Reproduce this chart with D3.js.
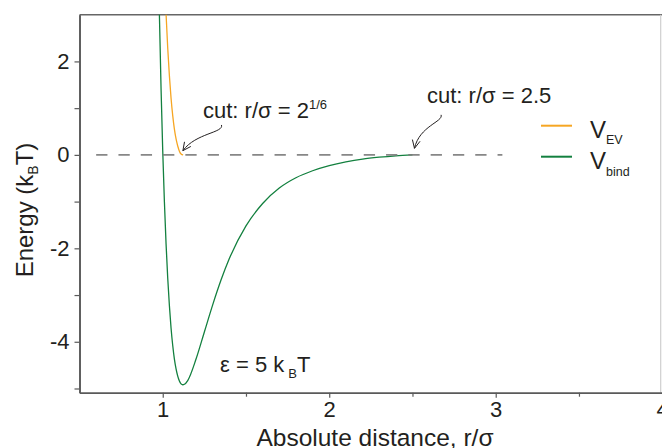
<!DOCTYPE html>
<html>
<head>
<meta charset="utf-8">
<style>
  html, body { margin: 0; padding: 0; background: #fff; }
  svg text { font-family: "Liberation Sans", Arial, sans-serif; fill: #231f20; }
</style>
</head>
<body>
<div id="chart"></div>
<script src="https://d3js.org/d3.v7.min.js"></script>
<script>
// V_bind (LJ, eps = 5 kBT, cut at 2.5 sigma)
const bindR = [0.975, 0.98, 0.99, 1.00, 1.01, 1.02, 1.03, 1.04, 1.05, 1.06, 1.07, 1.08, 1.10, 1.11, 1.12, 1.13, 1.15,
               1.20, 1.25, 1.30, 1.35, 1.40, 1.50, 1.60, 1.70, 1.80, 1.90, 2.00, 2.10, 2.20, 2.30, 2.40, 2.50];
const bindE = [3.90, 2.99, 1.40, 0.08, -1.01, -1.91, -2.64, -3.23, -3.71, -4.08, -4.37, -4.58, -4.84, -4.90, -4.92, -4.91, -4.83,
               -4.37, -3.79, -3.21, -2.68, -2.22, -1.52, -1.04, -0.71, -0.49, -0.34, -0.23, -0.15, -0.09, -0.05, -0.02, 0.00];

// V_EV (WCA, cut at 2^(1/6) sigma)
const evR = [1.015, 1.02, 1.03, 1.04, 1.05, 1.06, 1.07, 1.08, 1.09, 1.10, 1.11, 1.1225];
const evE = [3.44, 3.01, 2.28, 1.69, 1.21, 0.84, 0.55, 0.34, 0.19, 0.08, 0.02, 0.00];

// zero reference line extent
const zeroLine = [0.6, 3.04];

const xMajor = [1, 2, 3, 4];
const xMinor = [1.5, 2.5, 3.5];
const yMajor = [-4, -2, 0, 2];
const yMinor = [-5, -3, -1, 1];

// annotation arrows (data coords: start, ctrl1, ctrl2, tip)
const arrows = [
  [[1.353, 0.64], [1.367, 0.47], [1.199, 0.47], [1.121, 0.09]],
  [[2.672, 0.857], [2.686, 0.707], [2.542, 0.621], [2.512, 0.14]]
];

const width = 662, height = 448;
const svg = d3.select("#chart").append("svg")
  .attr("width", width)
  .attr("height", height);

const x = d3.scaleLinear().domain([0.5, 4]).range([79.5, 662.2]);
const y = d3.scaleLinear().domain([-5.09, 3]).range([392.7, 14.7]);

const axisColor = "#5a5a5a";

svg.append("clipPath").attr("id", "plot")
  .append("rect")
  .attr("x", x(0.5)).attr("y", y(3))
  .attr("width", x(4) - x(0.5)).attr("height", y(-5.09) - y(3));

// frame (top dark, right light)
svg.append("line")
  .attr("x1", x(0.5)).attr("x2", x(4)).attr("y1", y(3)).attr("y2", y(3))
  .attr("stroke", "#666").attr("stroke-width", 1.6);
svg.append("line")
  .attr("x1", x(4) - 1.5).attr("x2", x(4) - 1.5).attr("y1", y(3)).attr("y2", y(-5.09))
  .attr("stroke", "#cfcfcf").attr("stroke-width", 1.2);

// axes
function styleAxis(g) {
  g.select(".domain").attr("stroke", axisColor).attr("stroke-width", 1.6);
  g.selectAll(".tick line").attr("stroke", axisColor).attr("stroke-width", 1.2);
  g.selectAll(".tick text")
    .style("font-family", '"Liberation Sans", Arial, sans-serif')
    .style("font-size", "22px")
    .attr("fill", "#231f20");
}

svg.append("g")
  .attr("transform", `translate(0,${y(-5.09)})`)
  .call(d3.axisBottom(x).tickValues(xMinor).tickFormat("").tickSize(4).tickSizeOuter(0))
  .call(styleAxis);
svg.append("g")
  .attr("transform", `translate(0,${y(-5.09)})`)
  .call(d3.axisBottom(x).tickValues(xMajor).tickFormat(d => String(d)).tickSize(5).tickSizeOuter(0).tickPadding(4))
  .call(styleAxis);

svg.append("g")
  .attr("transform", `translate(${x(0.5)},0)`)
  .call(d3.axisLeft(y).tickValues(yMinor).tickFormat("").tickSize(5).tickSizeOuter(0))
  .call(styleAxis);
svg.append("g")
  .attr("transform", `translate(${x(0.5)},0)`)
  .call(d3.axisLeft(y).tickValues(yMajor).tickFormat(d => String(d)).tickSize(5).tickSizeOuter(0).tickPadding(5))
  .call(styleAxis);

// axis titles
svg.append("text")
  .attr("x", 375).attr("y", 446)
  .attr("text-anchor", "middle")
  .style("font-size", "24.5px")
  .text("Absolute distance, r/σ");

const yt = svg.append("text")
  .attr("transform", "translate(33,210) rotate(-90)")
  .attr("text-anchor", "middle")
  .style("font-size", "24px");
yt.append("tspan").text("Energy (k");
yt.append("tspan").attr("dy", 5).style("font-size", "14px").text("B");
yt.append("tspan").attr("dy", -5).text("T)");

// curves
const line = d3.line().x(d => x(d[0])).y(d => y(d[1])).curve(d3.curveMonotoneX);
const plot = svg.append("g").attr("clip-path", "url(#plot)");

plot.append("path")
  .datum(d3.zip(bindR, bindE))
  .attr("fill", "none")
  .attr("stroke", "#13803f")
  .attr("stroke-width", 1.3)
  .attr("d", line);

plot.append("line")
  .attr("x1", x(zeroLine[0])).attr("x2", x(zeroLine[1]))
  .attr("y1", y(0)).attr("y2", y(0))
  .attr("stroke", "#7a7a7a")
  .attr("stroke-opacity", 0.9)
  .attr("stroke-width", 1.6)
  .attr("stroke-dasharray", "11.3,11");

plot.append("path")
  .datum(d3.zip(evR, evE))
  .attr("fill", "none")
  .attr("stroke", "#f6a623")
  .attr("stroke-width", 1.3)
  .attr("d", line);

// arrows
arrows.forEach(a => {
  const p = a.map(d => [x(d[0]), y(d[1])]);
  svg.append("path")
    .attr("d", `M${p[0]}C${p[1]} ${p[2]} ${p[3]}`)
    .attr("fill", "none").attr("stroke", "#231f20").attr("stroke-width", 1);
  const dx = p[2][0] - p[3][0], dy = p[2][1] - p[3][1];
  const len = Math.hypot(dx, dy);
  const bx = dx / len, by = dy / len;
  const head = [0.45, -0.45].map(t => [
    p[3][0] + 9 * (bx * Math.cos(t) - by * Math.sin(t)),
    p[3][1] + 9 * (bx * Math.sin(t) + by * Math.cos(t))
  ]);
  svg.append("path")
    .attr("d", `M${head[0]}L${p[3]}L${head[1]}`)
    .attr("fill", "none").attr("stroke", "#231f20").attr("stroke-width", 1);
});

// annotations
const a1 = svg.append("text").attr("x", 203).attr("y", 117.5).style("font-size", "22px");
a1.append("tspan").text("cut: r/σ = 2");
a1.append("tspan").attr("dy", -9).style("font-size", "13px").text("1/6");

svg.append("text").attr("x", 427).attr("y", 102.7).style("font-size", "22px")
  .text("cut: r/σ = 2.5");

const eps = svg.append("text").attr("x", 220).attr("y", 371.7).style("font-size", "22px");
eps.append("tspan").text("ε = 5 k");
eps.append("tspan").attr("dx", 4).attr("dy", 6.5).style("font-size", "13px").text("B");
eps.append("tspan").attr("dy", -6.5).text("T");

// legend
const legend = [
  { name: "EV", color: "#f6a623", ly: 125.7, ty: 137.7 },
  { name: "bind", color: "#13803f", ly: 156.7, ty: 169.3 }
];
legend.forEach(l => {
  svg.append("line")
    .attr("x1", 541).attr("x2", 572).attr("y1", l.ly).attr("y2", l.ly)
    .attr("stroke", l.color).attr("stroke-width", 2);
  const t = svg.append("text").attr("x", 590).attr("y", l.ty).style("font-size", "24px");
  t.append("tspan").text("V");
  t.append("tspan").attr("dy", 6.5).style("font-size", "12.5px").text(l.name);
});
</script>
</body>
</html>
